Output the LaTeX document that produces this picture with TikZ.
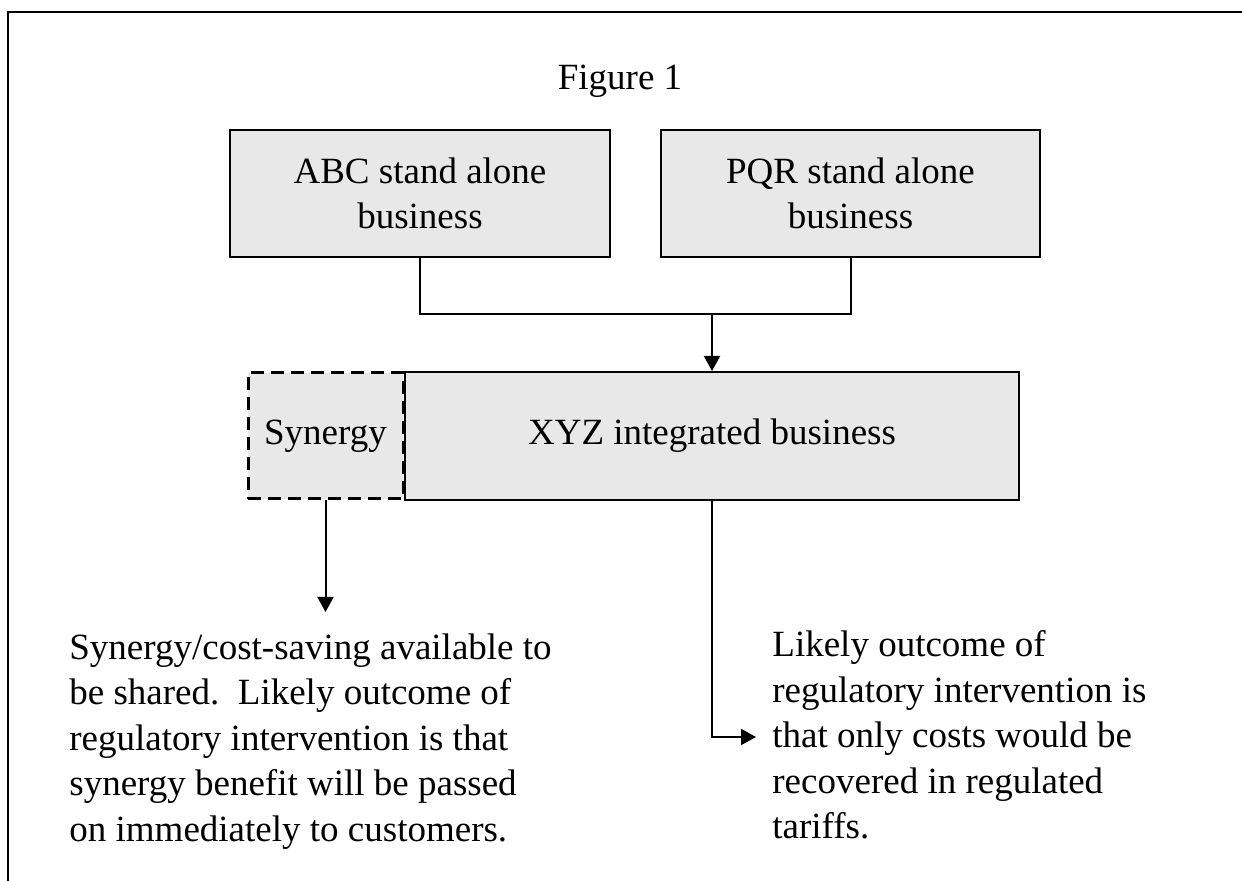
\documentclass[tikz,border=0pt]{standalone}
\usepackage{fontspec}
\setmainfont{Liberation Serif}
\usetikzlibrary{arrows.meta,positioning}
\definecolor{boxgray}{RGB}{232,232,232}
\tikzset{
    >={Triangle[width=8pt,length=7.5pt]},
    bizbox/.style={rectangle, draw, line width=1pt, fill=boxgray, align=center, inner sep=0pt},
    synbox/.style={bizbox, line width=1.5pt, dash pattern=on 6.5pt off 3.5pt},
    note/.style={anchor=north west, align=left, inner sep=0pt},
    link/.style={line width=1pt}
}

\begin{document}
\begin{tikzpicture}[x=0.5pt, y=-0.5pt, font=\fontsize{18.5}{22.8}\selectfont]
    \useasboundingbox (0,0) rectangle (1242,881);
    \draw[line width=1pt] (8,881) -- (8,12) -- (1242,12);

    \node[anchor=base] (title) at (620,90) {Figure 1};

    \node[bizbox, minimum width=190pt, minimum height=63.5pt] (abc) at (420,193.5) {ABC stand alone\\business};
    \node[bizbox, minimum width=189.5pt, minimum height=63.5pt] (pqr) at (850.5,193.5) {PQR stand alone\\business};
    \node[bizbox, minimum width=307pt, minimum height=64pt] (xyz) at (712,436) {XYZ integrated business};
    \node[synbox, minimum width=77.5pt, minimum height=63pt] (syn) at (325.5,436) {Synergy};

    % merge of the two stand alone businesses
    \coordinate (merge) at (712,314);
    \draw[link] (abc.south) |- (merge) -| (pqr.south);
    \draw[link,->] (merge) -- (xyz.north);

    \node[note] (shared) at (69,633) {Synergy/cost-saving available to\\
        be shared.\ \ Likely outcome of\\
        regulatory intervention is that\\
        synergy benefit will be passed\\
        on immediately to customers.};
    \node[note] (tariffs) at (772,630) {Likely outcome of\\
        regulatory intervention is\\
        that only costs would be\\
        recovered in regulated\\
        tariffs.};

    \coordinate (synend) at (syn.south |- 0,612);
    \coordinate (tarend) at (756,737);
    \draw[link,->] (syn.south) -- (synend);
    \draw[link,->] (xyz.south) |- (tarend);
\end{tikzpicture}
\end{document}
